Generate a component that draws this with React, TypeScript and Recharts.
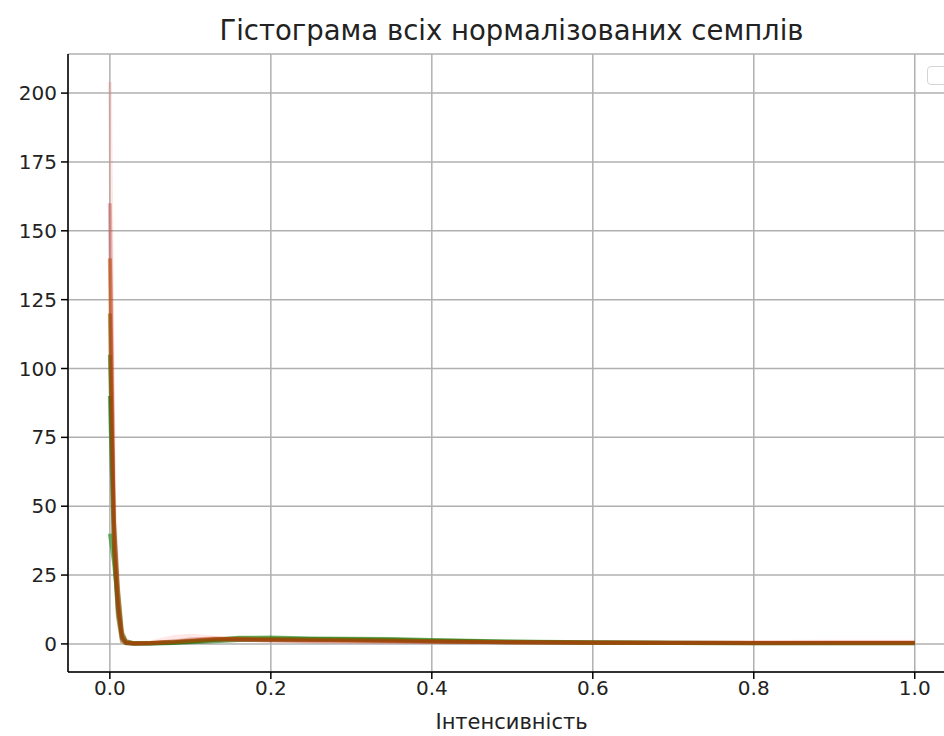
import { LineChart, Line, XAxis, YAxis, CartesianGrid } from 'recharts';

// bin positions (intensity) and per-sample histogram densities
const xs = [0, 0.005, 0.01, 0.015, 0.02, 0.03, 0.05, 0.08, 0.1, 0.13, 0.16, 0.2, 0.25, 0.3, 0.35, 0.4, 0.5, 0.6, 0.7, 0.8, 0.9, 1.0];
const green1 = [40, 30, 15, 3, 0.5, 0.2, 0.2, 0.5, 0.9, 1.5, 2.2, 2.3, 2.0, 1.9, 1.8, 1.4, 0.9, 0.6, 0.4, 0.3, 0.3, 0.3];
const green2 = [105, 45, 20, 4, 1, 0.3, 0.3, 0.6, 1.0, 1.6, 2.0, 2.0, 1.8, 1.7, 1.5, 1.2, 0.8, 0.5, 0.4, 0.3, 0.3, 0.3];
const green3 = [90, 35, 12, 2, 0.4, 0.1, 0.1, 0.3, 0.6, 1.0, 1.4, 1.6, 1.5, 1.4, 1.2, 1.0, 0.6, 0.4, 0.3, 0.2, 0.2, 0.2];
const orange1 = [140, 40, 18, 3, 0.6, 0.2, 0.3, 0.8, 1.2, 1.8, 1.9, 1.7, 1.5, 1.3, 1.2, 1.0, 0.6, 0.4, 0.3, 0.3, 0.3, 0.3];
const orange2 = [120, 35, 10, 1, 0.2, 0.1, 0.2, 0.6, 1.0, 1.4, 1.5, 1.4, 1.3, 1.2, 1.1, 0.9, 0.6, 0.4, 0.3, 0.2, 0.2, 0.2];
const red1 = [204, 55, 22, 5, 1, 0.3, 0.5, 2.5, 3.0, 2.2, 1.6, 1.3, 1.1, 1.0, 0.9, 0.8, 0.7, 0.7, 0.7, 0.7, 0.8, 0.8];
const red2 = [160, 45, 14, 2, 0.3, 0.1, 0.2, 1.0, 1.6, 2.0, 1.6, 1.2, 1.0, 0.9, 0.8, 0.7, 0.5, 0.4, 0.4, 0.4, 0.5, 0.5];

const xTicks = [0, 0.2, 0.4, 0.6, 0.8, 1.0];
const yTicks = [0, 25, 50, 75, 100, 125, 150, 175, 200];

// drawing order: greens underneath, browns/oranges over them, faint reds on top
const series = [
  { key: 'green1', values: green1, color: '#1e8c1e', opacity: 0.6 },
  { key: 'green2', values: green2, color: '#2f6b00', opacity: 0.6 },
  { key: 'green3', values: green3, color: '#006400', opacity: 0.55 },
  { key: 'orange1', values: orange1, color: '#c0620a', opacity: 0.55 },
  { key: 'orange2', values: orange2, color: '#8b5a00', opacity: 0.55 },
  { key: 'red2', values: red2, color: '#b22222', opacity: 0.3 },
  { key: 'red1', values: red1, color: '#ff2000', opacity: 0.1 },
];

const data = xs.map((x, i) => {
  const row: Record<string, number> = { x };
  series.forEach((s) => { row[s.key] = s.values[i]; });
  return row;
});

const font = '"DejaVu Sans", sans-serif';
const tickStyle = { fontSize: 20, fill: '#222', fontFamily: font };

export default function App() {
  return (
    <div style={{ position: 'absolute', left: 0, top: 0, width: 944, height: 736, overflow: 'hidden', background: '#fff', fontFamily: font }}>
      <div style={{ position: 'absolute', left: 68, width: 887, top: 14, textAlign: 'center', fontSize: 27.5, lineHeight: '32px', color: '#222' }}>
        Гістограма всіх нормалізованих семплів
      </div>
      <LineChart width={960} height={736} data={data} margin={{ top: 54, right: 5, bottom: 0, left: 0 }}>
        <CartesianGrid stroke="#b0b0b0" strokeWidth={1.5} xAxisId="x" yAxisId="y" />
        <XAxis
          xAxisId="x"
          dataKey="x"
          type="number"
          domain={[-0.052, 1.05]}
          ticks={xTicks}
          interval={0}
          allowDataOverflow
          tickFormatter={(v: number) => v.toFixed(1)}
          height={64}
          tickSize={7}
          tickMargin={2}
          tick={tickStyle}
          stroke="#000"
          strokeWidth={1.5}
          label={{ value: 'Інтенсивність', position: 'insideBottom', offset: 7, style: { fontSize: 21, fill: '#222', fontFamily: font } }}
        />
        <XAxis xAxisId="top" orientation="top" type="number" domain={[0, 1]} tick={false} tickLine={false} height={0} stroke="#000" strokeWidth={1.5} />
        <YAxis
          yAxisId="y"
          type="number"
          domain={[-10.2, 214.2]}
          ticks={yTicks}
          interval={0}
          allowDataOverflow
          width={68}
          tickSize={7}
          tickMargin={4}
          tick={tickStyle}
          stroke="#000"
          strokeWidth={1.5}
        />
        {series.map((s) => (
          <Line
            key={s.key}
            xAxisId="x"
            yAxisId="y"
            type="linear"
            dataKey={s.key}
            stroke={s.color}
            strokeOpacity={s.opacity}
            strokeWidth={4}
            dot={false}
            isAnimationActive={false}
          />
        ))}
      </LineChart>
      <div style={{ position: 'absolute', left: 927, top: 66, width: 24, height: 17, border: '1.5px solid #d4d4d4', borderRadius: 4, background: '#fff' }} />
    </div>
  );
}
